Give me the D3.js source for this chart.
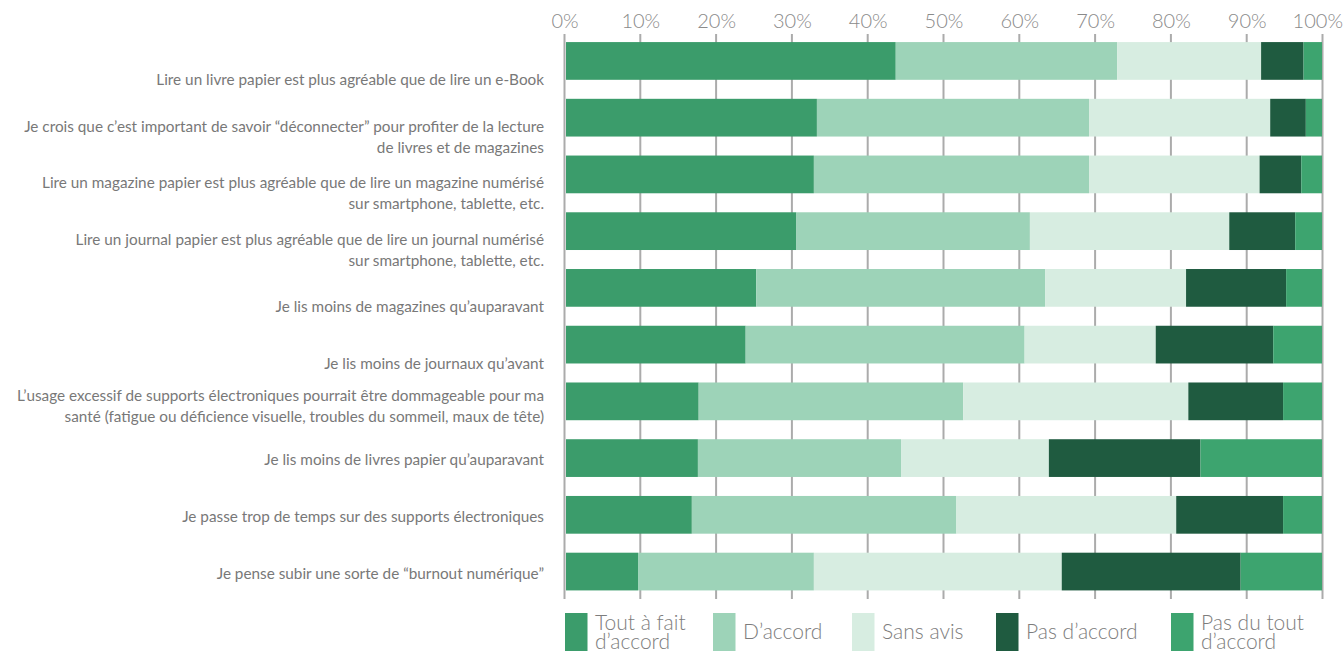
<!DOCTYPE html>
<html lang="fr">
<head>
<meta charset="utf-8">
<script src="https://cdn.jsdelivr.net/npm/d3@7"></script>
<style>
  html, body { margin: 0; padding: 0; background: #fff; }
  svg { display: block; font-family: Lato, "Open Sans", sans-serif; }
</style>
</head>
<body>
<svg id="chart" width="1344" height="652"></svg>
<script>
// Statements (each may span two lines)
const statements = [
  ["Lire un livre papier est plus agréable que de lire un e-Book"],
  ["Je crois que c’est important de savoir “déconnecter” pour profiter de la lecture", "de livres et de magazines"],
  ["Lire un magazine papier est plus agréable que de lire un magazine numérisé", "sur smartphone, tablette, etc."],
  ["Lire un journal papier est plus agréable que de lire un journal numérisé", "sur smartphone, tablette, etc."],
  ["Je lis moins de magazines qu’auparavant"],
  ["Je lis moins de journaux qu’avant"],
  ["L’usage excessif de supports électroniques pourrait être dommageable pour ma", "santé (fatigue ou déficience visuelle, troubles du sommeil, maux de tête)"],
  ["Je lis moins de livres papier qu’auparavant"],
  ["Je passe trop de temps sur des supports électroniques"],
  ["Je pense subir une sorte de “burnout numérique”"]
];

// Answer categories (legend order)
const answers = [
  ["Tout à fait", "d’accord"],
  ["D’accord"],
  ["Sans avis"],
  ["Pas d’accord"],
  ["Pas du tout", "d’accord"]
];

// Share of respondents (%) per answer, one value per statement
const toutAFait  = [43.7, 33.3, 32.9, 30.6, 25.3, 23.9, 17.7, 17.6, 16.8,  9.7];
const dAccord    = [29.2, 35.9, 36.3, 30.8, 38.1, 36.8, 34.9, 26.8, 34.9, 23.2];
const sansAvis   = [19.0, 23.9, 22.5, 26.3, 18.6, 17.3, 29.7, 19.5, 29.0, 32.7];
const pasDAccord = [ 5.6,  4.7,  5.5,  8.7, 13.2, 15.5, 12.5, 20.0, 14.1, 23.6];
const pasDuTout  = [ 2.5,  2.2,  2.8,  3.6,  4.8,  6.5,  5.2, 16.1,  5.2, 10.8];

const tickValues = [0, 10, 20, 30, 40, 50, 60, 70, 80, 90, 100];

const colors = ["#3b9c6b", "#9dd3b8", "#d7ede1", "#1f5b40", "#3da46f"];

// ---- build table ----
const keys = ["a0", "a1", "a2", "a3", "a4"];
const series = [toutAFait, dAccord, sansAvis, pasDAccord, pasDuTout];
const rows = statements.map((s, i) => {
  const r = { idx: i };
  keys.forEach((k, j) => r[k] = series[j][i]);
  return r;
});
const stacked = d3.stack().keys(keys)(rows);

// ---- layout ----
const W = 1344;
const svg = d3.select("#chart");
const x = d3.scaleLinear().domain([0, 100]).range([564.5, 1322.5]);
const y = d3.scaleBand().domain(d3.range(statements.length))
  .range([33, 599.5]).paddingInner(0.335).paddingOuter(0.16);

// grid lines (behind bars)
const grid = svg.append("g");
grid.selectAll("line").data(tickValues).join("line")
  .attr("x1", d => x(d)).attr("x2", d => x(d))
  .attr("y1", 34).attr("y2", 599)
  .attr("stroke", "#ababab").attr("stroke-width", 2);

// top axis labels
const axis = d3.axisTop(x).tickValues(tickValues).tickFormat(d => d + "%").tickSize(0).tickPadding(0);
const axisG = svg.append("g").attr("transform", "translate(0,28)").call(axis);
axisG.select(".domain").remove();
axisG.selectAll("text")
  .attr("fill", "#8a8a8a").attr("font-size", 20).attr("font-family", "Lato, sans-serif")
  .attr("font-weight", 300)
  .each(function () {
    // keep the last label inside the canvas
    const b = this.getBBox();
    const tx = this.parentNode.transform.baseVal.consolidate().matrix.e;
    const over = tx + b.x + b.width - (W - 1);
    if (over > 0) d3.select(this).attr("x", -over);
  });

// stacked bars
const barScaleEdge = v => Math.min(Math.max(x(v), x(0) + 1.5), x(100) - 0.5);
svg.append("g").selectAll("g").data(stacked).join("g")
  .attr("fill", (d, i) => colors[i])
  .selectAll("rect").data(d => d).join("rect")
  .attr("x", d => barScaleEdge(d[0]))
  .attr("width", d => barScaleEdge(Math.min(d[1], 100)) - barScaleEdge(d[0]))
  .attr("y", (d, i) => y(i))
  .attr("height", y.bandwidth());

// statement labels
const labelNudge = [19, 19, 19, 19, 19, 19, 5, 2, 2, 2];
const lineGap = 21;
const labels = svg.append("g").attr("fill", "#787878").attr("font-size", 15.3)
  .attr("text-anchor", "end");
statements.forEach((lines, i) => {
  const cy = y(i) + y.bandwidth() / 2 + labelNudge[i];
  const t = labels.append("text").attr("x", 544);
  lines.forEach((ln, k) => {
    t.append("tspan").attr("x", 544)
      .attr("y", cy + (k - (lines.length - 1) / 2) * lineGap)
      .attr("dy", "0.35em").text(ln);
  });
});

// legend
const legendX = [565, 713, 852, 996, 1171];
const legend = svg.append("g");
answers.forEach((lines, i) => {
  const g = legend.append("g").attr("transform", `translate(${legendX[i]},613)`);
  g.append("rect").attr("width", 22.5).attr("height", 38).attr("fill", colors[i]);
  const t = g.append("text").attr("fill", "#7d7d7d").attr("font-size", 21)
    .attr("font-weight", 300);
  lines.forEach((ln, k) => {
    t.append("tspan").attr("x", 30)
      .attr("y", 19 + (k - (lines.length - 1) / 2) * 19.5)
      .attr("dy", "0.35em").text(ln);
  });
});
</script>
</body>
</html>
